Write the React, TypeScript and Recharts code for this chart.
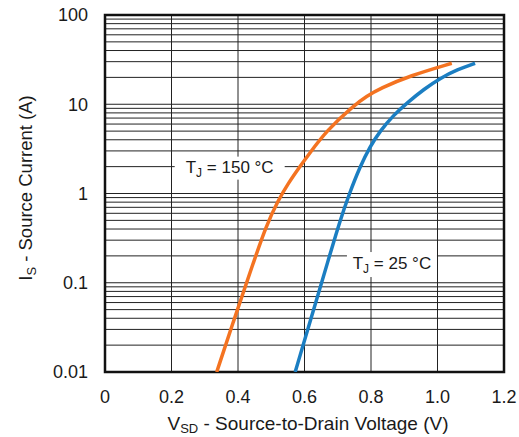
import { CartesianGrid, Line, LineChart, ReferenceArea, ReferenceDot, XAxis, YAxis } from 'recharts'

const xTicks = [0, 0.2, 0.4, 0.6, 0.8, 1.0, 1.2]
const decades = [0.01, 0.1, 1, 10, 100]
const yTicks = [
  0.01, 0.02, 0.03, 0.04, 0.05, 0.06, 0.07, 0.08, 0.09,
  0.1, 0.2, 0.3, 0.4, 0.5, 0.6, 0.7, 0.8, 0.9,
  1, 2, 3, 4, 5, 6, 7, 8, 9,
  10, 20, 30, 40, 50, 60, 70, 80, 90,
  100,
]

// Tj = 150 °C
const hotVsd = [0.336, 0.386, 0.436, 0.486, 0.521, 0.551, 0.586, 0.611, 0.667, 0.747, 0.787, 0.827, 0.917, 1.043]
const hotIs = [0.01, 0.0367, 0.13, 0.45, 0.84, 1.3, 2.0, 2.69, 5.1, 9.6, 12.3, 15.0, 20.9, 28.8]

// Tj = 25 °C
const coldVsd = [0.572, 0.622, 0.672, 0.707, 0.735, 0.767, 0.797, 0.827, 0.867, 0.91, 0.96, 1.007, 1.06, 1.113]
const coldIs = [0.01, 0.0427, 0.182, 0.5, 1.0, 2.0, 3.35, 5.0, 7.5, 10.5, 14.8, 19.5, 24.5, 28.8]

const hotData = hotVsd.map((v, i) => ({ v, i: hotIs[i] }))
const coldData = coldVsd.map((v, i) => ({ v, i: coldIs[i] }))

const FONT = '"Liberation Sans", Arial, sans-serif'
const ORANGE = '#F47321'
const BLUE = '#1B7EC2'
const INK = '#1a1a1a'

const fmtX = (v: number) => (v === 0 ? '0' : v.toFixed(1))
const fmtY = (v: number) => (decades.some((d) => Math.abs(d - v) < 1e-9) ? String(v) : '')

const TempLabel = ({ viewBox, temp, w, top, h, base }: any) => {
  const cx = viewBox?.x ?? 0
  const cy = viewBox?.y ?? 0
  return (
    <g>
      <rect x={cx - w / 2} y={cy + top} width={w} height={h} fill="#fff" />
      <text x={cx} y={cy + base} textAnchor="middle" fontFamily={FONT} fontSize={17} fill={INK}>
        T<tspan fontSize={12} dy={4}>J</tspan>
        <tspan dy={-4}>{` = ${temp} °C`}</tspan>
      </text>
    </g>
  )
}

export default function App() {
  return (
    <div style={{ position: 'absolute', left: 0, top: 0, width: 519, height: 437, overflow: 'hidden' }}>
      <LineChart width={519} height={437} margin={{ top: 15, right: 15, bottom: 35, left: 55 }}>
        <CartesianGrid stroke="#222" strokeWidth={1} />
        <XAxis
          dataKey="v"
          type="number"
          domain={[0, 1.2]}
          ticks={xTicks}
          tickFormatter={fmtX}
          tickLine={false}
          axisLine={false}
          tickMargin={12}
          height={30}
          tick={{ fill: INK, fontSize: 18, fontFamily: FONT }}
          allowDataOverflow
          label={{
            content: () => (
              <text x={308} y={430} textAnchor="middle" fontFamily={FONT} fontSize={19} fill={INK}>
                V<tspan fontSize={13} dy={3}>SD</tspan>
                <tspan dy={-3}> - Source-to-Drain Voltage (V)</tspan>
              </text>
            ),
          }}
        />
        <YAxis
          dataKey="i"
          type="number"
          scale="log"
          domain={[0.01, 100]}
          ticks={yTicks}
          interval={0}
          tickFormatter={fmtY}
          tickLine={false}
          axisLine={false}
          tickMargin={11}
          width={50}
          tick={{ fill: INK, fontSize: 18, fontFamily: FONT }}
          allowDataOverflow
          label={{
            content: () => (
              <text
                x={188}
                y={32}
                textAnchor="middle"
                transform="rotate(-90 188 188)"
                fontFamily={FONT}
                fontSize={18.5}
                fill={INK}
              >
                I<tspan fontSize={13} dy={4}>S</tspan>
                <tspan dy={-4}> - Source Current (A)</tspan>
              </text>
            ),
          }}
        />
        <ReferenceArea x1={0} x2={1.2} y1={0.01} y2={100} fill="none" stroke="#111" strokeWidth={2.5} strokeOpacity={1} />
        <Line data={hotData} dataKey="i" type="basis" stroke={ORANGE} strokeWidth={3.5} dot={false} isAnimationActive={false} />
        <Line data={coldData} dataKey="i" type="basis" stroke={BLUE} strokeWidth={3.5} dot={false} isAnimationActive={false} />
        <ReferenceDot
          x={0.375}
          y={2}
          r={0}
          fill="none"
          stroke="none"
          label={(p: any) => <TempLabel {...p} temp={150} w={110} top={-10} h={23} base={6} />}
        />
        <ReferenceDot
          x={0.863}
          y={0.16}
          r={0}
          fill="none"
          stroke="none"
          label={(p: any) => <TempLabel {...p} temp={25} w={90} top={-12.5} h={25} base={4} />}
        />
      </LineChart>
    </div>
  )
}
